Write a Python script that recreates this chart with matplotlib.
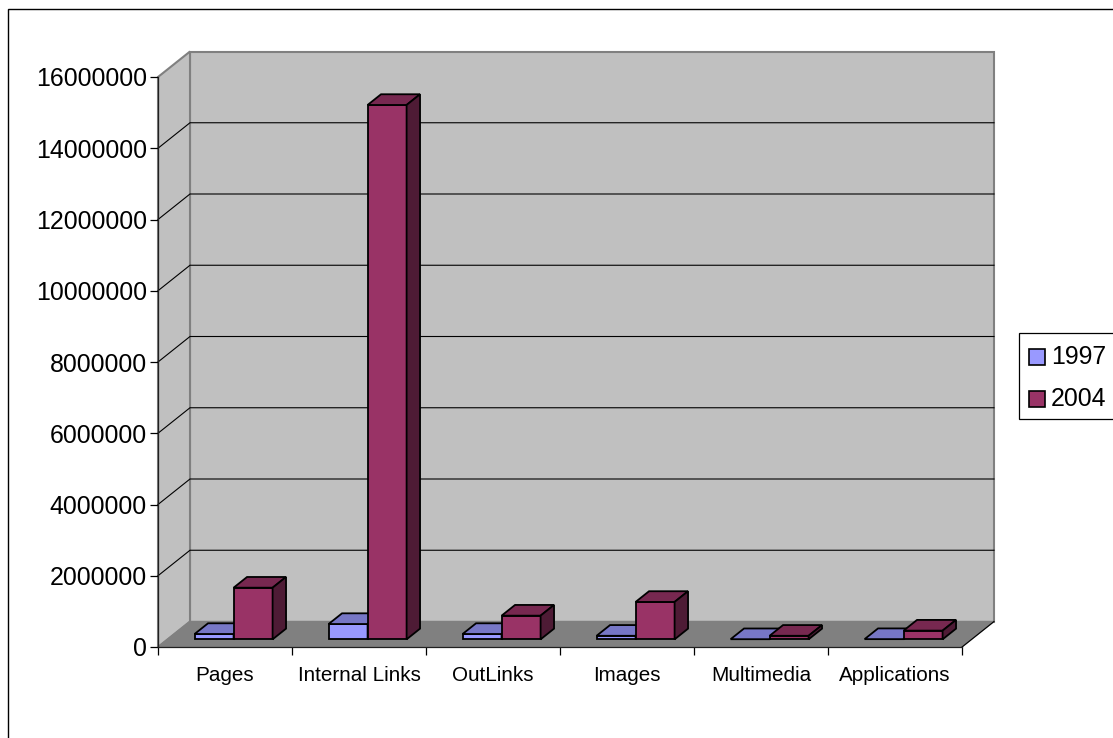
import matplotlib
matplotlib.use("Agg")
import matplotlib.pyplot as plt
from matplotlib.patches import Polygon, Rectangle

plt.rcParams['font.family'] = ['Liberation Sans', 'DejaVu Sans']

categories = ["Pages", "Internal Links", "OutLinks", "Images", "Multimedia", "Applications"]
values_1997 = [150000, 430000, 150000, 100000, 4000, 6000]
values_2004 = [1450000, 15000000, 665000, 1050000, 100000, 245000]
yticks = [0, 2000000, 4000000, 6000000, 8000000, 10000000, 12000000, 14000000, 16000000]
years = ["1997", "2004"]

# front, top and side shades for each series
colors_1997 = ["#9999FF", "#7777C6", "#5A5A99"]
colors_2004 = ["#993366", "#772850", "#4E1B35"]

W = 1113.0
H = 738.0
fig = plt.figure(figsize=(W / 100, H / 100), dpi=100, facecolor="white")

# outer chart frame runs off the right and bottom edges
fig.add_artist(Rectangle((7.5 / W, -0.05), 1.2, 1.05 - 9.5 / H, transform=fig.transFigure,
                         fc="none", ec="black", lw=1.0))

ax = fig.add_axes([158 / W, (H - 647) / H, 804 / W, 570 / H])
ax.set_xlim(0, len(categories))
ax.set_ylim(0, 16000000)
ax.patch.set_visible(False)

# how far one unit of depth moves a point, in data units
DX = 32.0 / 134.0
DY = 25.5 / 570.0 * 16000000


def proj(x, v, d):
    return (x + d * DX, v + d * DY)


def face(points, fc, ec, lw, z):
    ax.add_patch(Polygon([proj(*p) for p in points], closed=True, fc=fc, ec=ec, lw=lw,
                         zorder=z, clip_on=False, joinstyle="miter"))


n = len(categories)
top = 16000000

# walls and floor
face([(0, 0, 1), (n, 0, 1), (n, top, 1), (0, top, 1)], "#C0C0C0", "#808080", 1.5, 1)
face([(0, 0, 0), (0, 0, 1), (0, top, 1), (0, top, 0)], "#C0C0C0", "#808080", 1.5, 1)
face([(0, 0, 0), (n, 0, 0), (n, 0, 1), (0, 0, 1)], "#808080", "#808080", 1.0, 1.5)

# gridlines across the side wall and the back wall
for t in yticks[1:-1]:
    pts = [proj(0, t, 0), proj(0, t, 1), proj(n, t, 1)]
    ax.plot([p[0] for p in pts], [p[1] for p in pts], color="black", lw=0.8, zorder=2,
            clip_on=False, solid_joinstyle="miter")

# right hand edge of the floor
pts = [proj(n, 0, 0), proj(n, 0, 1)]
ax.plot([p[0] for p in pts], [p[1] for p in pts], color="black", lw=0.8, zorder=2, clip_on=False)

bar_w = 39.0 / 134.0
d0 = 0.30
d1 = 0.72


def bar3d(x0, x1, v, colors, z):
    face([(x0, 0, d0), (x1, 0, d0), (x1, v, d0), (x0, v, d0)], colors[0], "black", 1.3, z)
    face([(x0, v, d0), (x1, v, d0), (x1, v, d1), (x0, v, d1)], colors[1], "black", 1.3, z)
    face([(x1, 0, d0), (x1, 0, d1), (x1, v, d1), (x1, v, d0)], colors[2], "black", 1.3, z)


for i in range(n):
    c = i + 0.5 - 1.0 / 134.0
    bar3d(c - bar_w, c, values_1997[i], colors_1997, 3 + i)
    bar3d(c, c + bar_w, values_2004[i], colors_2004, 3.5 + i)

# axes
for side in ["top", "right"]:
    ax.spines[side].set_visible(False)
for side in ["left", "bottom"]:
    ax.spines[side].set_linewidth(0.9)
    ax.spines[side].set_color("#202020")
    ax.spines[side].set_zorder(20)

ax.set_yticks(yticks)
ax.set_yticklabels([str(t) for t in yticks])
ax.tick_params(axis="y", length=6, width=0.9, labelsize=17.9, pad=2)
ax.set_xticks(range(n + 1))
ax.set_xticklabels([""] * (n + 1))
ax.tick_params(axis="x", which="major", length=6, width=0.9)
ax.set_xticks([i + 0.5 for i in range(n)], minor=True)
ax.set_xticklabels(categories, minor=True)
ax.tick_params(axis="x", which="minor", length=0, labelsize=14.9, pad=13.5)

# legend box, cut off by the right edge of the figure
fig.add_artist(Rectangle((1018.5 / W, (H - 419) / H), 120 / W, 86 / H, transform=fig.transFigure,
                         fc="white", ec="black", lw=0.9))
swatch_y = [357.5, 399]
text_y = [354.5, 397]
for year, sy, ty, col in zip(years, swatch_y, text_y, [colors_1997[0], colors_2004[0]]):
    fig.add_artist(Rectangle((1028.5 / W, (H - sy - 8) / H), 16 / W, 16 / H, transform=fig.transFigure,
                             fc=col, ec="black", lw=1.2))
    fig.text(1051 / W, (H - ty) / H, year, fontsize=17.9, va="center_baseline", ha="left", color="black")

plt.savefig("out.png", dpi=100)
